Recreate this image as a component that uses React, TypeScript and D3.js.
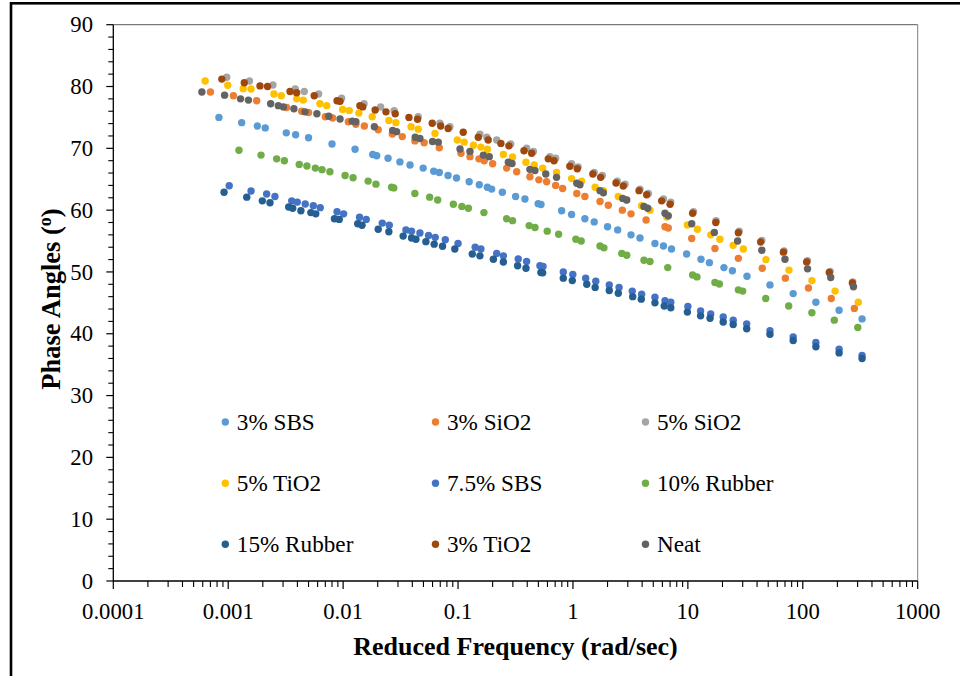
import React from "react";
import * as d3 from "d3";

type Pt = [number, number];

// Reduced frequency (rad/sec) vs phase angle (degrees) for each binder
const sbs3: Pt[] = [[0.00083,75.0],[0.00131,74.15],[0.00179,73.6],[0.0021,73.3],[0.0032,72.5],[0.00386,72.2],[0.005,71.7],[0.008,70.7],[0.0127,69.85],[0.0181,69.0],[0.0196,68.8],[0.0246,68.4],[0.0312,67.8],[0.0382,67.3],[0.0497,66.8],[0.0614,66.3],[0.0687,66.1],[0.0818,65.6],[0.097,65.2],[0.125,64.6],[0.153,64.1],[0.18,63.7],[0.196,63.4],[0.243,62.9],[0.317,62.2],[0.382,61.8],[0.498,61.05],[0.527,60.9],[0.797,59.9],[0.973,59.3],[1.27,58.6],[1.53,58.1],[2.0,57.3],[2.45,56.8],[3.2,56.0],[3.83,55.5],[5.17,54.6],[6.13,54.2],[7.2,53.7],[9.75,52.9],[13.0,52.05],[15.4,51.5],[20.6,50.7],[24.4,50.2],[32.7,49.3],[51.8,47.9],[82.5,46.5],[130,45.1],[207,43.8],[328,42.4]];

const sio2_3: Pt[] = [[0.0007,79.1],[0.00111,78.5],[0.00177,77.7],[0.00322,76.6],[0.00436,76.0],[0.005,75.8],[0.007,75.1],[0.0081,74.9],[0.0111,74.3],[0.0129,73.9],[0.0153,73.6],[0.0202,73.0],[0.0268,72.3],[0.0327,71.9],[0.0421,71.2],[0.0507,70.9],[0.0687,70.1],[0.106,69.2],[0.127,68.65],[0.152,68.3],[0.169,68.0],[0.2,67.5],[0.265,66.8],[0.324,66.2],[0.422,65.4],[0.505,64.9],[0.59,64.6],[0.707,64.0],[0.813,63.5],[1.08,62.7],[1.27,62.2],[1.72,61.4],[2.03,60.8],[2.69,60.0],[3.2,59.4],[4.33,58.4],[6.32,57.3],[6.75,57.1],[10.8,55.4],[17.2,53.8],[27.5,52.2],[44.4,50.6],[70.5,49.0],[112,47.4],[177,45.7],[281,44.1]];

const sio2_5: Pt[] = [[0.00097,81.5],[0.00153,80.9],[0.00245,80.25],[0.00383,79.6],[0.00459,79.2],[0.00612,78.8],[0.0097,78.1],[0.0152,77.2],[0.0212,76.7],[0.0278,76.1],[0.045,75.1],[0.0696,74.05],[0.085,73.5],[0.155,72.3],[0.178,71.8],[0.217,71.35],[0.287,70.7],[0.395,70.0],[0.453,69.5],[0.63,68.65],[0.707,68.4],[0.973,67.5],[1.11,67.0],[1.53,66.1],[1.8,65.6],[2.43,64.7],[2.84,64.2],[3.83,63.4],[4.53,62.7],[6.13,61.8],[7.1,61.3],[11.2,59.75],[17.6,58.3],[28,56.6],[44,55.1],[68.7,53.4],[110,51.8],[173,50.1],[272,48.4]];

const tio2_5: Pt[] = [[0.00063,80.9],[0.00099,80.2],[0.00135,79.65],[0.00158,79.6],[0.0025,78.8],[0.0029,78.5],[0.00394,78.0],[0.0045,77.8],[0.00628,77.2],[0.0072,76.9],[0.0099,76.3],[0.0113,76.1],[0.0137,75.7],[0.0179,75.1],[0.025,74.5],[0.0288,74.15],[0.039,73.5],[0.045,73.1],[0.063,72.4],[0.0985,71.35],[0.113,71.0],[0.136,70.5],[0.158,70.2],[0.18,69.85],[0.248,69.0],[0.298,68.6],[0.39,67.75],[0.46,67.3],[0.545,66.8],[0.72,66.1],[0.973,65.1],[1.19,64.7],[1.56,63.7],[1.84,63.15],[2.48,62.2],[2.9,61.65],[3.96,60.7],[4.68,60.0],[6.55,58.9],[9.9,57.6],[12.1,56.9],[15.8,56.0],[19.0,55.3],[24.8,54.3],[30.4,53.7],[47.8,52.0],[75.8,50.3],[120,48.6],[191,46.9],[304,45.1]];

const sbs75: Pt[] = [[0.00102,63.95],[0.00158,63.1],[0.00216,62.6],[0.00255,62.2],[0.00357,61.5],[0.00399,61.3],[0.00468,61.0],[0.0055,60.7],[0.00632,60.4],[0.00885,59.75],[0.0101,59.4],[0.0139,58.85],[0.0159,58.5],[0.0219,57.9],[0.0252,57.55],[0.0352,56.8],[0.0394,56.6],[0.0466,56.3],[0.0554,55.9],[0.0633,55.6],[0.0774,55.2],[0.1,54.6],[0.141,54.0],[0.158,53.7],[0.217,53.0],[0.248,52.6],[0.334,52.1],[0.395,51.7],[0.516,51.0],[0.549,50.9],[0.824,50.0],[0.997,49.6],[1.29,49.0],[1.58,48.5],[2.07,47.9],[2.52,47.5],[3.28,46.9],[3.96,46.4],[5.17,45.9],[6.32,45.35],[7.1,45.1],[10.0,44.4],[12.9,43.7],[15.8,43.2],[20.3,42.7],[24.8,42.2],[32.5,41.6],[51.8,40.5],[82.5,39.5],[130,38.6],[207,37.5],[328,36.5]];

const rubber10: Pt[] = [[0.00124,69.7],[0.00193,68.9],[0.00264,68.3],[0.00308,68.0],[0.00415,67.4],[0.00484,67.15],[0.00573,66.8],[0.00655,66.55],[0.00767,66.2],[0.0104,65.6],[0.0122,65.25],[0.0165,64.7],[0.0193,64.2],[0.0264,63.7],[0.0276,63.6],[0.0421,62.7],[0.0566,62.1],[0.0665,61.65],[0.091,60.95],[0.108,60.6],[0.123,60.3],[0.168,59.6],[0.265,58.6],[0.298,58.3],[0.416,57.5],[0.467,57.2],[0.597,56.6],[0.75,56.1],[1.06,55.3],[1.18,55.0],[1.72,54.2],[1.86,53.9],[2.66,53.0],[2.94,52.7],[4.15,51.9],[4.68,51.7],[6.68,50.7],[11.0,49.5],[12.0,49.2],[17.2,48.3],[18.8,48.05],[27.5,47.1],[30,46.9],[47.6,45.7],[75.4,44.5],[120,43.4],[188,42.2],[301,41.0]];

const rubber15: Pt[] = [[0.00092,62.9],[0.00145,62.1],[0.00198,61.5],[0.00231,61.2],[0.00336,60.5],[0.00364,60.3],[0.00429,59.9],[0.00524,59.6],[0.00578,59.4],[0.0084,58.6],[0.00925,58.5],[0.0134,57.8],[0.0146,57.55],[0.0202,56.9],[0.025,56.5],[0.0333,55.8],[0.0394,55.5],[0.043,55.3],[0.0525,54.9],[0.062,54.5],[0.0733,54.15],[0.0937,53.7],[0.133,52.9],[0.155,52.6],[0.203,52.05],[0.248,51.6],[0.33,51.0],[0.39,50.6],[0.526,49.9],[0.545,49.85],[0.824,49.0],[0.987,48.6],[1.32,48.0],[1.56,47.5],[2.07,47.0],[2.48,46.55],[3.31,46.0],[3.93,45.6],[5.17,45.0],[6.23,44.5],[7.1,44.2],[9.9,43.5],[12.9,42.9],[15.6,42.5],[20.3,41.9],[24.8,41.5],[32.5,40.8],[51.8,39.9],[82.5,38.9],[130,37.9],[207,36.9],[328,36.0]];

const tio2_3: Pt[] = [[0.00088,81.2],[0.00138,80.6],[0.00189,80.1],[0.0022,80.0],[0.00345,79.2],[0.00394,79.0],[0.0056,78.5],[0.00885,77.7],[0.0094,77.6],[0.014,76.9],[0.0148,76.7],[0.019,76.2],[0.0236,75.9],[0.0284,75.6],[0.0374,75.0],[0.0444,74.7],[0.0596,74.05],[0.0706,73.6],[0.082,73.2],[0.111,72.6],[0.15,71.8],[0.183,71.35],[0.236,70.8],[0.277,70.4],[0.375,69.6],[0.437,69.2],[0.61,68.3],[0.684,68.0],[0.94,67.1],[1.09,66.7],[1.49,65.85],[1.74,65.3],[2.37,64.4],[2.74,63.9],[3.76,63.15],[4.38,62.5],[5.91,61.5],[7.0,60.95],[11.0,59.5],[17.5,58.0],[27.5,56.35],[43,54.85],[67.8,53.2],[108,51.6],[170,49.9],[270,48.2]];

const neat: Pt[] = [[0.00059,79.1],[0.00093,78.6],[0.00128,78.0],[0.0015,77.8],[0.00234,77.2],[0.00273,76.9],[0.00302,76.7],[0.00373,76.4],[0.00466,75.9],[0.00591,75.6],[0.0075,75.2],[0.0094,74.75],[0.012,74.4],[0.0129,74.3],[0.0187,73.5],[0.027,72.9],[0.0292,72.7],[0.0424,71.8],[0.0466,71.6],[0.06,71.1],[0.0673,71.0],[0.104,69.9],[0.127,69.5],[0.166,68.9],[0.187,68.65],[0.274,67.75],[0.295,67.55],[0.422,66.6],[0.467,66.4],[0.58,65.85],[0.72,65.3],[1.08,64.35],[1.15,64.1],[1.72,63.15],[1.84,62.8],[2.71,61.9],[2.94,61.65],[4.15,60.6],[4.47,60.3],[6.32,59.5],[6.75,59.1],[10.8,57.8],[17,56.4],[27.1,55.0],[44,53.5],[70,52.05],[110,50.5],[175,49.1],[276,47.6]];

const seriesNames = ["3% SBS", "3% SiO2", "5% SiO2", "5% TiO2", "7.5% SBS", "10% Rubber", "15% Rubber", "3% TiO2", "Neat"];
const seriesData = [sbs3, sio2_3, sio2_5, tio2_5, sbs75, rubber10, rubber15, tio2_3, neat];
const seriesColors = ["#5B9BD5", "#ED7D31", "#A5A5A5", "#FFC000", "#4472C4", "#70AD47", "#255E91", "#9E480E", "#636363"];

const xTickValues = [0.0001, 0.001, 0.01, 0.1, 1, 10, 100, 1000];
const xTickLabels = ["0.0001", "0.001", "0.01", "0.1", "1", "10", "100", "1000"];
const yTickValues = [0, 10, 20, 30, 40, 50, 60, 70, 80, 90];

const W = 960;
const H = 676;
const plot = { left: 113.3, right: 917.7, top: 24.7, bottom: 581 };
const FONT = "'Liberation Serif', 'Times New Roman', serif";

export default function App() {
  const x = d3.scaleLog().domain([1e-4, 1e3]).range([plot.left, plot.right]);
  const y = d3.scaleLinear().domain([0, 90]).range([plot.bottom, plot.top]);

  // minor log ticks 2..9 in each decade
  const xMinor: number[] = [];
  for (let e = -4; e < 3; e++) {
    for (let m = 2; m <= 9; m++) xMinor.push(m * Math.pow(10, e));
  }
  const yMinor = d3.range(0, 91, 2).filter((v) => v % 10 !== 0);

  const legendCols = [225.3, 435.5, 645.5];
  const legendRows = [422, 483.3, 544.3];

  return (
    <svg
      width={W}
      height={H}
      style={{ position: "absolute", left: 0, top: 0, background: "#fff" }}
      fontFamily={FONT}
    >
      <rect x={0} y={0} width={W} height={H} fill="#fff" />
      {/* outer frame */}
      <rect x={11} y={3.3} width={1000} height={1000} fill="none" stroke="#000" strokeWidth={2.6} />

      {/* plot area border (top/right) */}
      <line x1={plot.left} x2={plot.right} y1={plot.top} y2={plot.top} stroke="#595959" strokeWidth={1} />
      <line x1={plot.right} x2={plot.right} y1={plot.top} y2={plot.bottom} stroke="#7f7f7f" strokeWidth={1} />

      {/* y axis */}
      <line x1={plot.left} x2={plot.left} y1={plot.top} y2={plot.bottom} stroke="#000" strokeWidth={1.3} />
      {yTickValues.map((v) => (
        <g key={"yt" + v}>
          <line x1={plot.left - 7} x2={plot.left} y1={y(v)} y2={y(v)} stroke="#000" strokeWidth={1.2} />
          <text x={93} y={y(v)} dy="0.34em" textAnchor="end" fontSize={22.7} fill="#000">
            {v}
          </text>
        </g>
      ))}
      {yMinor.map((v) => (
        <line key={"ym" + v} x1={plot.left - 5} x2={plot.left} y1={y(v)} y2={y(v)} stroke="#000" strokeWidth={1.1} />
      ))}

      {/* x axis */}
      <line x1={plot.left} x2={plot.right} y1={plot.bottom} y2={plot.bottom} stroke="#000" strokeWidth={1.3} />
      {xTickValues.map((v, i) => (
        <g key={"xt" + v}>
          <line x1={x(v)} x2={x(v)} y1={plot.bottom} y2={plot.bottom + 8} stroke="#000" strokeWidth={1.2} />
          <text x={x(v)} y={619} textAnchor="middle" fontSize={22.7} fill="#000">
            {xTickLabels[i]}
          </text>
        </g>
      ))}
      {xMinor.map((v) => (
        <line key={"xm" + v} x1={x(v)} x2={x(v)} y1={plot.bottom} y2={plot.bottom + 6} stroke="#000" strokeWidth={1.1} />
      ))}

      {/* data points */}
      {seriesData.map((data, si) => (
        <g key={"s" + si} fill={seriesColors[si]}>
          {data.map((d, i) => (
            <circle key={i} cx={x(d[0])} cy={y(d[1])} r={3.7} />
          ))}
        </g>
      ))}

      {/* legend */}
      {seriesNames.map((name, i) => {
        const cx = legendCols[i % 3];
        const cy = legendRows[Math.floor(i / 3)];
        return (
          <g key={"lg" + i}>
            <circle cx={cx} cy={cy} r={3.7} fill={seriesColors[i]} />
            <text x={cx + 11.5} y={cy} dy="0.34em" fontSize={23.2} fill="#000">
              {name}
            </text>
          </g>
        );
      })}

      {/* axis titles */}
      <text x={515.5} y={655} textAnchor="middle" fontSize={26} fontWeight="bold" fill="#000">
        Reduced Frequency (rad/sec)
      </text>
      <text
        transform={`translate(60, 299) rotate(-90)`}
        textAnchor="middle"
        fontSize={26.5}
        fontWeight="bold"
        fill="#000"
      >
        Phase Angles (<tspan fontSize={18} dy={-9}>o</tspan><tspan dy={9}>)</tspan>
      </text>
    </svg>
  );
}
